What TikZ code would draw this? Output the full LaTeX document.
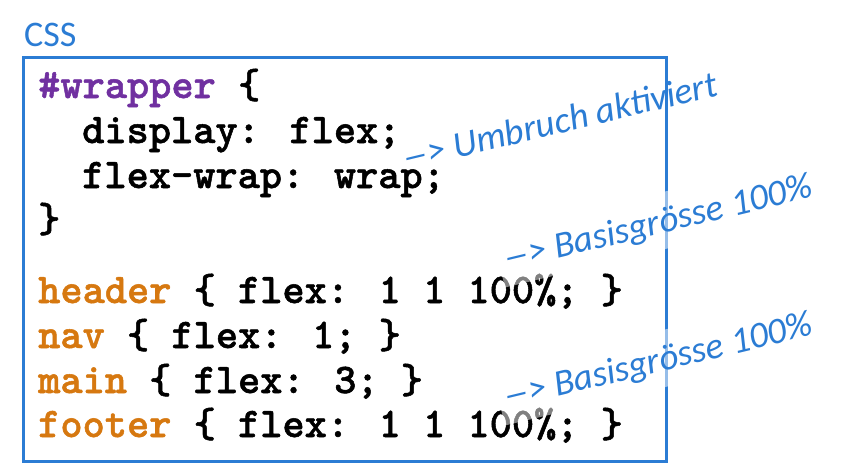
\documentclass[tikz,border=0pt]{standalone}
\usepackage{fontspec}
\usepackage{graphicx}
\newfontfamily\annfont{Carlito}
\newfontfamily\codefont{lmmonolt10-bold.otf}[FakeBold=1.2]
\definecolor{cssblue}{RGB}{43,124,212}
\definecolor{csspurple}{RGB}{112,48,160}
\definecolor{cssorange}{RGB}{214,120,16}
\newcommand{\arrowdash}{\scalebox{1.4}[1]{–}>}
\begin{document}
\begin{tikzpicture}[x=1pt,y=-1pt,
  code/.style={anchor=base west,inner sep=0pt,font=\fontsize{42.3}{44}\selectfont\codefont},
  note/.style={anchor=base west,rotate=13.5,text=cssblue,
    font=\fontsize{37}{40}\selectfont\annfont\itshape,
    inner xsep=5pt,inner ysep=6pt,text height=34pt,text depth=10pt},
  veil/.style={fill=white,fill opacity=0.5,text opacity=1},
  frame/.style={draw=cssblue,line width=3pt}]
\useasboundingbox (0,0) rectangle (848,474);
\node[anchor=base west,inner sep=0pt,text=cssblue,font=\fontsize{36}{40}\selectfont\annfont] (css) at (24,46) {CSS};
\draw[frame] (23.5,57.5) rectangle (666,461);
\coordinate (boxnw) at (23.5,57.5);
\node[code] (l1) at (38,98) {\textcolor{csspurple}{\#wrapper} \{};
\node[code] (l2) at (82,143) {display: flex;};
\node[code] (l3) at (82,188) {flex-wrap: wrap;};
\node[code] (l4) at (38,232) {\}};
\node[code] (l5) at (38,303) {\textcolor{cssorange}{header} \{ flex: 1 1 100\%; \}};
\node[code] (l6) at (38,348) {\textcolor{cssorange}{nav} \{ flex: 1; \}};
\node[code] (l7) at (38,393) {\textcolor{cssorange}{main} \{ flex: 3; \}};
\node[code] (l8) at (38,437) {\textcolor{cssorange}{footer} \{ flex: 1 1 100\%; \}};
\node[note] (a1) at (400,172) {\arrowdash{} Umbruch aktiviert};
\node[note,veil] (a2) at (501,272) {\arrowdash{} Basisgrösse 100\%};
\node[note,veil] (a3) at (501,410) {\arrowdash{} Basisgrösse 100\%};
\end{tikzpicture}
\end{document}
